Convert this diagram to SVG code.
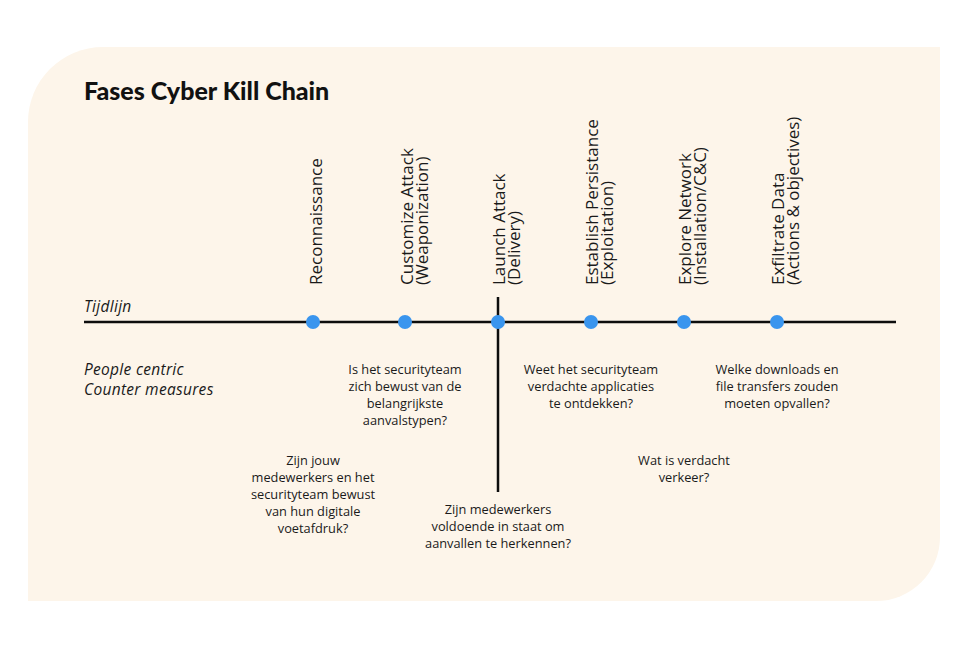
<svg xmlns="http://www.w3.org/2000/svg" width="970" height="646" viewBox="0 0 970 646">
<style>
.title{font-family:Lato,"Noto Sans",sans-serif;font-weight:900;font-size:25px;fill:#111}
.phase{font-family:"Open Sans","Noto Sans",sans-serif;font-size:17px;fill:#1a1a1a}
.side{font-family:"Open Sans","Noto Sans",sans-serif;font-style:italic;font-size:15.5px;letter-spacing:0.3px;fill:#1a1a1a}
.q{font-family:"Open Sans","Noto Sans",sans-serif;font-weight:500;font-size:12.8px;fill:#1a1a1a;text-anchor:middle}
.dot{fill:#3a95ee}
.line{stroke:#0d0d0d;stroke-width:2.5;fill:none}
</style>
<rect width="970" height="646" fill="#ffffff"/>
<path id="bg" d="M103,47 H940 V537 A64,64 0 0 1 876,601 H28 V122 A75,75 0 0 1 103,47 Z" fill="#fdf5ea"/>
<text class="title" x="84" y="100">Fases Cyber Kill Chain</text>
<g id="connectors">
<line class="line" x1="84" y1="322" x2="896" y2="322"/>
<line class="line" x1="498" y1="297" x2="498" y2="492"/>
</g>
<g id="labels-left">
<text class="side" x="84" y="312">Tijdlijn</text>
<text class="side" x="84" y="375">People centric</text>
<text class="side" x="84" y="395">Counter measures</text>
</g>
<g id="reconnaissance">
<circle class="dot" cx="313" cy="322" r="7"/>
<text class="phase" transform="translate(322,285) rotate(-90)">Reconnaissance</text>
<text class="q" x="313" y="465">Zijn jouw</text>
<text class="q" x="313" y="482">medewerkers en het</text>
<text class="q" x="313" y="499">securityteam bewust</text>
<text class="q" x="313" y="516">van hun digitale</text>
<text class="q" x="313" y="533">voetafdruk?</text>
</g>
<g id="weaponization">
<circle class="dot" cx="405" cy="322" r="7"/>
<text class="phase" transform="translate(413,285) rotate(-90)">Customize Attack</text>
<text class="phase" transform="translate(428,285) rotate(-90)">(Weaponization)</text>
<text class="q" x="405" y="374">Is het securityteam</text>
<text class="q" x="405" y="391">zich bewust van de</text>
<text class="q" x="405" y="408">belangrijkste</text>
<text class="q" x="405" y="425">aanvalstypen?</text>
</g>
<g id="delivery">
<circle class="dot" cx="498" cy="322" r="7"/>
<text class="phase" transform="translate(505,285) rotate(-90)">Launch Attack</text>
<text class="phase" transform="translate(520,285) rotate(-90)">(Delivery)</text>
<text class="q" x="498" y="514">Zijn medewerkers</text>
<text class="q" x="498" y="531">voldoende in staat om</text>
<text class="q" x="498" y="548">aanvallen te herkennen?</text>
</g>
<g id="exploitation">
<circle class="dot" cx="591" cy="322" r="7"/>
<text class="phase" transform="translate(598,285) rotate(-90)">Establish Persistance</text>
<text class="phase" transform="translate(613,285) rotate(-90)">(Exploitation)</text>
<text class="q" x="591" y="374">Weet het securityteam</text>
<text class="q" x="591" y="391">verdachte applicaties</text>
<text class="q" x="591" y="408">te ontdekken?</text>
</g>
<g id="installation">
<circle class="dot" cx="684" cy="322" r="7"/>
<text class="phase" transform="translate(691,285) rotate(-90)">Explore Network</text>
<text class="phase" transform="translate(706,285) rotate(-90)">(Installation/C&amp;C)</text>
<text class="q" x="684" y="465">Wat is verdacht</text>
<text class="q" x="684" y="482">verkeer?</text>
</g>
<g id="actions">
<circle class="dot" cx="777" cy="322" r="7"/>
<text class="phase" transform="translate(784,285) rotate(-90)">Exfiltrate Data</text>
<text class="phase" transform="translate(799,285) rotate(-90)">(Actions &amp; objectives)</text>
<text class="q" x="777" y="374">Welke downloads en</text>
<text class="q" x="777" y="391">file transfers zouden</text>
<text class="q" x="777" y="408">moeten opvallen?</text>
</g>
</svg>
